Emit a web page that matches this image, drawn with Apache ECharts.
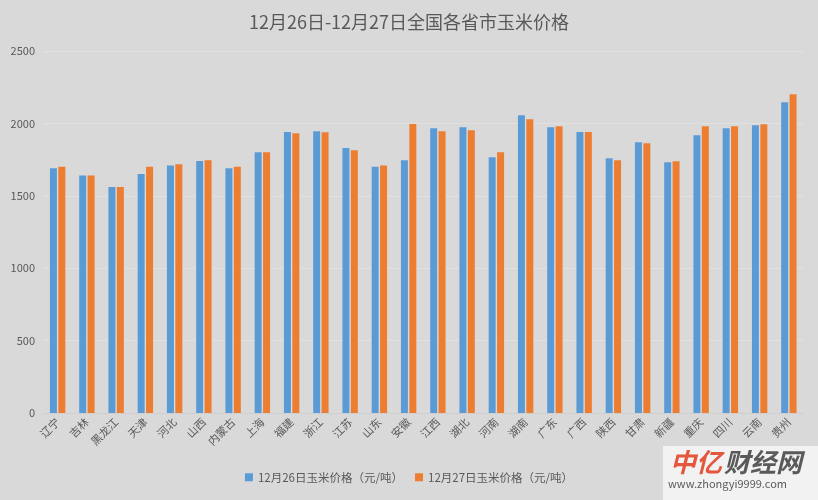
<!DOCTYPE html>
<html><head><meta charset="utf-8">
<script src="https://cdn.jsdelivr.net/npm/echarts@6/dist/echarts.min.js"></script>
<style>html,body{margin:0;padding:0;background:#D9D9D9;}#c{width:818px;height:500px;}</style>
</head><body><div id="c"></div>
<script>
var categories = ['辽宁','吉林','黑龙江','天津','河北','山西','内蒙古','上海','福建','浙江','江苏','山东','安徽','江西','湖北','河南','湖南','广东','广西','陕西','甘肃','新疆','重庆','四川','云南','贵州'];
var price26 = [1690,1640,1560,1650,1710,1740,1690,1800,1940,1945,1830,1700,1745,1967,1974,1767,2057,1974,1940,1760,1870,1732,1918,1967,1988,2146];
var price27 = [1700,1640,1560,1700,1718,1746,1700,1800,1932,1939,1815,1710,1995,1946,1953,1800,2029,1981,1940,1746,1863,1739,1981,1981,1994,2201];
var seriesNames = ['12月26日玉米价格（元/吨）','12月27日玉米价格（元/吨）'];
var yTicks = {min:0, max:2500, interval:500};

var chart = echarts.init(document.getElementById('c'));
var font = '"Noto Sans CJK SC","Noto Sans",sans-serif';
chart.setOption({
  backgroundColor:'#D9D9D9',
  animation:false,
  title:{text:'12月26日-12月27日全国各省市玉米价格', left:'center', top:8,
    textStyle:{color:'#595959', fontSize:18, fontWeight:'normal', fontFamily:font}},
  legend:{bottom:12, left:'center', itemWidth:8, itemHeight:8, itemGap:12, icon:'rect',
    textStyle:{color:'#595959', fontSize:11.5, fontFamily:font}},
  grid:{left:43, right:14.5, top:51, bottom:87, containLabel:false},
  xAxis:{type:'category', data:categories,
    axisLine:{lineStyle:{color:'#CFCFCF'}}, axisTick:{show:false},
    axisLabel:{rotate:45, color:'#595959', fontSize:11, fontFamily:font, margin:7, interval:0}},
  yAxis:{type:'value', min:yTicks.min, max:yTicks.max, interval:yTicks.interval,
    axisLine:{show:false}, axisTick:{show:false},
    splitLine:{lineStyle:{color:'#E1E1E1'}},
    axisLabel:{color:'#595959', fontSize:11, fontFamily:font, margin:8, formatter:function(v){return String(v);}}},
  series:[
    {name:seriesNames[0], type:'bar', data:price26, barWidth:7, barGap:'20%', itemStyle:{color:'#5B9BD5'}},
    {name:seriesNames[1], type:'bar', data:price27, barWidth:7, barGap:'20%', itemStyle:{color:'#ED7D31'}}
  ],
  graphic:[
    {type:'rect', right:0, bottom:0, shape:{width:155, height:54}, style:{fill:'#F2F2F2'}},
    {type:'text', left:670, top:449, style:{text:'中亿', fill:'#E4573D', font:'italic bold 26px '+font}},
    {type:'text', left:724, top:449, style:{text:'财经网', fill:'#5A5A5A', font:'italic bold 26px '+font}},
    {type:'text', left:668, top:478, style:{text:'www.zhongyi9999.com', fill:'#5A5A5A', font:'11px '+font}}
  ]
});
</script></body></html>
